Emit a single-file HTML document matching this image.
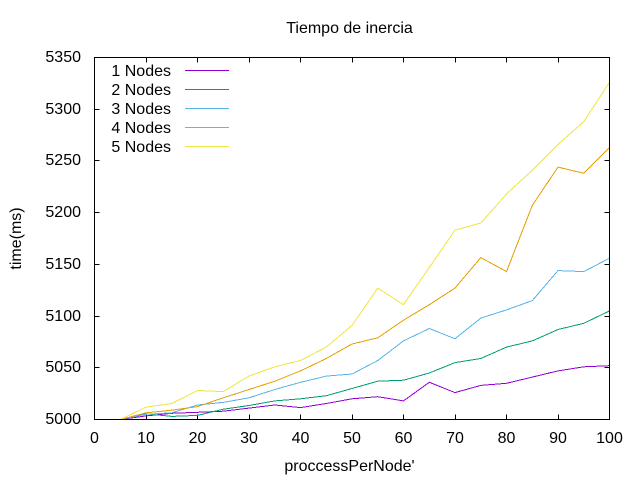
<!DOCTYPE html>
<html>
<head>
<meta charset="utf-8">
<title>Tiempo de inercia</title>
<style>
html,body{margin:0;padding:0;background:#fff;}
#chart{display:block;width:640px;height:480px;}
text{font-family:"Liberation Sans",sans-serif;font-size:16px;fill:#000;}
</style>
</head>
<body>
<svg id="chart" xmlns="http://www.w3.org/2000/svg" width="640" height="480" viewBox="0 0 640 480">
<rect width="640" height="480" fill="#fff"/>
<text x="349.5" y="33" text-anchor="middle">Tiempo de inercia</text>
<text x="349.5" y="471" text-anchor="middle">proccessPerNode'</text>
<text transform="translate(21,238.5) rotate(-90)" text-anchor="middle">time(ms)</text>
<g id="ticks"></g>
<g id="series"></g>
<g id="legend"></g>
<rect x="94.5" y="57.5" width="515" height="362" fill="none" stroke="#000" stroke-width="1" shape-rendering="crispEdges"/>
</svg>
<script>
const xValues = [5,10,15,20,25,30,35,40,45,50,55,60,65,70,75,80,85,90,95,100];
const nodes1 = [5000,5003.5,5006,5007,5008,5011,5014,5011.5,5015.5,5020,5022,5018,5036,5026,5033,5035,5041,5047,5051,5052];
const nodes2 = [5000,5005.5,5003,5004,5010,5013.5,5018,5020,5023,5030,5037,5038,5045,5055,5059,5070,5076,5087,5093,5105];
const nodes3 = [5000,5005,5006.5,5014,5016.5,5021,5029,5036,5042,5044,5057,5076,5088,5078,5098,5106,5115,5144,5143,5156];
const nodes4 = [5000,5006.5,5009,5012.5,5021,5029,5037,5047,5059,5073,5079,5096,5111,5127,5156.5,5143,5207,5244,5238,5263];
const nodes5 = [5000,5012,5015.5,5028,5027,5042,5051,5057,5070,5091,5127,5111,5147,5183,5190,5218,5241,5266,5288,5326];
const seriesNames = ["1 Nodes","2 Nodes","3 Nodes","4 Nodes","5 Nodes"];
const xTicks = [0,10,20,30,40,50,60,70,80,90,100];
const yTicks = [5000,5050,5100,5150,5200,5250,5300,5350];
const allSeries = [nodes1,nodes2,nodes3,nodes4,nodes5];
const colors = ["#9400d3","#009e73","#56b4e9","#e69f00","#f0e442"];

const NS = "http://www.w3.org/2000/svg";
function sx(v){ return 94.5 + (v - 0) / 100 * 515; }
function sy(v){ return 419.5 - (v - 5000) / 350 * 362; }
function make(tag, attrs, parent){
  const el = document.createElementNS(NS, tag);
  for (const k in attrs) el.setAttribute(k, attrs[k]);
  parent.appendChild(el);
  return el;
}
const tickLayer = document.getElementById("ticks");
xTicks.forEach(function(t){
  const x = Math.round(sx(t) - 0.5) + 0.5;
  const bottom = make("line", {x1:x, x2:x, y1:419.5, y2:414.5, stroke:"#000", "shape-rendering":"crispEdges"}, tickLayer);
  
  
  const top = make("line", {x1:x, x2:x, y1:57.5, y2:62.5, stroke:"#000", "shape-rendering":"crispEdges"}, tickLayer);
  
  
  const label = make("text", {x:sx(t), y:443, "text-anchor":"middle"}, tickLayer);
  label.textContent = t;
  
  
});
yTicks.forEach(function(t){
  const y = Math.round(sy(t) - 0.5) + 0.5;
  const left = make("line", {x1:94.5, x2:99.5, y1:y, y2:y, stroke:"#000", "shape-rendering":"crispEdges"}, tickLayer);
  
  
  const right = make("line", {x1:609.5, x2:604.5, y1:y, y2:y, stroke:"#000", "shape-rendering":"crispEdges"}, tickLayer);
  
  
  const label = make("text", {x:81, y:Math.round(sy(t) + 4.5), "text-anchor":"end"}, tickLayer);
  label.textContent = t;
  
  
});
const seriesLayer = document.getElementById("series");
const legendLayer = document.getElementById("legend");
allSeries.forEach(function(values, i){
  const pts = values.map(function(v, j){ return sx(xValues[j]).toFixed(1) + "," + sy(v).toFixed(1); }).join(" ");
  const line = make("polyline", {points:pts, fill:"none", stroke:colors[i], "stroke-width":1, "shape-rendering":"crispEdges"}, seriesLayer);
  
  
  const ly = 70.5 + i * 19;
  const label = make("text", {x:171, y:ly + 5.5, "text-anchor":"end"}, legendLayer);
  label.textContent = seriesNames[i];
  
  
  const swatch = make("line", {x1:185, x2:229, y1:ly, y2:ly, stroke:colors[i], "shape-rendering":"crispEdges"}, legendLayer);
  
  
});
</script>
</body>
</html>
